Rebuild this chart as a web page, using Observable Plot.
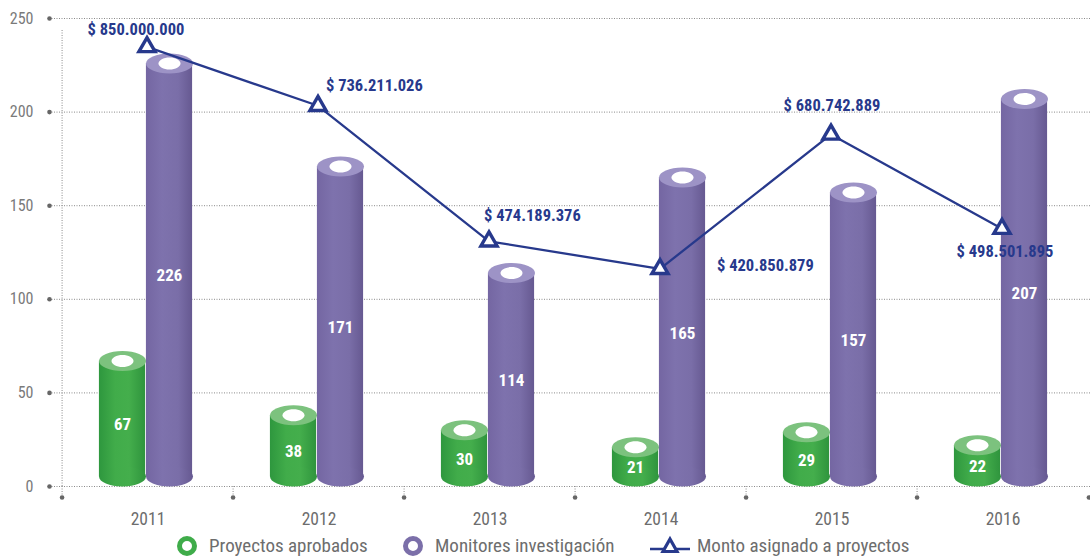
<!DOCTYPE html>
<html><head><meta charset="utf-8">
<script src="https://cdn.jsdelivr.net/npm/d3@7"></script>
<script src="https://cdn.jsdelivr.net/npm/@observablehq/plot@0.6"></script>
<style>
body{margin:0;background:#fff;}
#wrap{position:relative;width:1090px;height:557px;overflow:hidden;font-family:"Liberation Sans Narrow","Roboto Condensed","DejaVu Sans Condensed","Liberation Sans",sans-serif;font-stretch:condensed;}
#legend{position:absolute;left:0;top:534px;width:1090px;height:23px;}
.li{position:absolute;top:0;height:23px;display:flex;align-items:center;font-size:19px;color:#6d6d6d;white-space:nowrap;}
</style></head><body><div id="wrap"><div id="chart"></div><div id="legend"></div></div>
<script>
const years = ["2011", "2012", "2013", "2014", "2015", "2016"];
const proyectos = [67, 38, 30, 21, 29, 22];
const monitores = [226, 171, 114, 165, 157, 207];
const montos = [850000000, 736211026, 474189376, 420850879, 680742889, 498501895];
const yTicks = [0, 50, 100, 150, 200, 250];
const seriesNames = ["Proyectos aprobados", "Monitores investigación", "Monto asignado a proyectos"];
const montoPorUnidad = 3.62e6; // secondary (money) values drawn on the left scale

const rows = years.map((year, i) => ({year, proyectos: proyectos[i], monitores: monitores[i], monto: montos[i]}));
const fmtMoney = v => "$ " + d3.format(",")(v).replace(/,/g, ".");

const W = 1090, H = 532, X0 = 59, FRAME_L = 49, Y_TOP = 18, Y_ZERO = 486;
const bw = (W - X0) / years.length;
const R = 23.5, RY = 10, HR = 11, HRY = 6;
const BLUE = "#27398c";
const FONT = '"Liberation Sans Narrow","Roboto Condensed","DejaVu Sans Condensed","Liberation Sans",sans-serif';

function ellipse(ratio) {
  return {draw(ctx, size) {
    const rx = Math.sqrt(size / Math.PI), ry = rx * ratio, k = 0.5523;
    ctx.moveTo(rx, 0);
    ctx.bezierCurveTo(rx, ry * k, rx * k, ry, 0, ry);
    ctx.bezierCurveTo(-rx * k, ry, -rx, ry * k, -rx, 0);
    ctx.bezierCurveTo(-rx, -ry * k, -rx * k, -ry, 0, -ry);
    ctx.bezierCurveTo(rx * k, -ry, rx, -ry * k, rx, 0);
    ctx.closePath();
  }};
}

function cylinder(key, dx, body, top) {
  const c = bw / 2 + dx;
  return [
    Plot.barY(rows, {x: "year", y: key, fill: body, insetLeft: c - R, insetRight: bw - c - R, insetBottom: RY}),
    Plot.dot(rows, {x: "year", y: () => 0, dx, dy: -RY, r: R, symbol: ellipse(RY / R), fill: body}),
    Plot.dot(rows, {x: "year", y: key, dx, r: R, symbol: ellipse(RY / R), fill: top}),
    Plot.dot(rows, {x: "year", y: key, dx, r: HR, symbol: ellipse(HRY / HR), fill: "white"}),
    Plot.text(rows, {x: "year", y: d => d[key] / 2, dx, dy: 1, text: key, fill: "white", fontWeight: "bold", fontSize: 17})
  ];
}

function moneyLabel(i, dx, dy, textAnchor) {
  return Plot.text([rows[i]], {x: "year", y: d => d.monto / montoPorUnidad, text: d => fmtMoney(d.monto),
    dx, dy, textAnchor, fill: BLUE, fontWeight: "bold", fontSize: 16.5});
}

const plot = Plot.plot({
  width: W, height: H,
  marginLeft: FRAME_L, marginRight: 0, marginTop: Y_TOP, marginBottom: H - Y_ZERO,
  style: {fontFamily: FONT, background: "white", overflow: "visible"},
  x: {type: "band", domain: years, range: [X0, W], padding: 0},
  y: {domain: [0, 250], ticks: yTicks},
  marks: [
    Plot.ruleY(yTicks, {stroke: "#8a8a8a", strokeWidth: 1, strokeDasharray: "1,1.5"}),
    Plot.dot(yTicks, {y: d => d, frameAnchor: "left", r: 2.3, fill: "#666"}),
    Plot.ruleX([years[0]], {dx: -bw / 2, y1: 0, y2: 250, insetBottom: -11, stroke: "#8a8a8a", strokeDasharray: "1,1.5"}),
    Plot.ruleX(years, {x: d => d, dx: -bw / 2, y1: 0, y2: 0, insetTop: 0, insetBottom: -11, stroke: "#8a8a8a", strokeDasharray: "1,1.5"}),
    Plot.dot(years, {x: d => d, y: () => 0, dx: -bw / 2, dy: 11, r: 2.3, fill: "#666"}),
    Plot.dot([years[5]], {x: d => d, y: () => 0, dx: bw / 2, dy: 11, r: 2.3, fill: "#666"}),
    Plot.axisY({ticks: yTicks, tickSize: 0, tickPadding: 16, fontSize: 16, color: "#7a7a7a"}),
    Plot.axisX({tickSize: 0, tickPadding: 26, fontSize: 17.5, color: "#6d6d6d", label: null}),
    ...cylinder("proyectos", -25.5, "url(#gGreen)", "#7cc27e"),
    ...cylinder("monitores", 21.5, "url(#gPurple)", "#9d93c6"),
    Plot.line(rows, {x: "year", y: d => d.monto / montoPorUnidad, stroke: BLUE, strokeWidth: 2.3, dx: -1}),
    Plot.dot(rows, {x: "year", y: d => d.monto / montoPorUnidad, dx: -1, symbol: "triangle", r: 6, fill: "white", stroke: BLUE, strokeWidth: 3.4, strokeLinejoin: "miter"}),
    moneyLabel(0, -12, -17, "middle"),
    moneyLabel(1, 7, -20, "start"),
    moneyLabel(2, -6, -26, "start"),
    moneyLabel(3, 56, -3, "start"),
    moneyLabel(4, 0, -29, "middle"),
    moneyLabel(5, 2, 23, "middle")
  ]
});

const ns = "http://www.w3.org/2000/svg";
const defs = document.createElementNS(ns, "defs");
defs.innerHTML = `
<linearGradient id="gGreen" x1="0" x2="1" y1="0" y2="0">
  <stop offset="0" stop-color="#2e973e"/><stop offset="0.35" stop-color="#41ac4a"/>
  <stop offset="0.65" stop-color="#44ae4c"/><stop offset="1" stop-color="#2f943d"/>
</linearGradient>
<linearGradient id="gPurple" x1="0" x2="1" y1="0" y2="0">
  <stop offset="0" stop-color="#7466a2"/><stop offset="0.35" stop-color="#7e72ad"/>
  <stop offset="0.7" stop-color="#7a6ea8"/><stop offset="1" stop-color="#665991"/>
</linearGradient>`;
plot.insertBefore(defs, plot.firstChild);
document.getElementById("chart").appendChild(plot);

// legend
const legend = document.getElementById("legend");
const ring = c => `<svg width="22" height="22" style="margin-right:11px"><circle cx="11" cy="11" r="7.5" fill="white" stroke="${c}" stroke-width="5"/></svg>`;
const tri = `<svg width="44" height="22" style="margin-right:5px"><line x1="2" x2="42" y1="14" y2="14" stroke="${BLUE}" stroke-width="2.3"/><path d="M22,4 L29,16.5 L15,16.5 Z" fill="white" stroke="${BLUE}" stroke-width="3.2"/></svg>`;
const items = [[176, ring("#3fac4a"), seriesNames[0]], [402, ring("#7b6fa9"), seriesNames[1]], [648, tri, seriesNames[2]]];
for (const [left, sym, name] of items) {
  const el = document.createElement("div");
  el.className = "li"; el.style.left = left + "px";
  el.innerHTML = sym + `<span>${name}</span>`;
  legend.appendChild(el);
}
</script></body></html>
